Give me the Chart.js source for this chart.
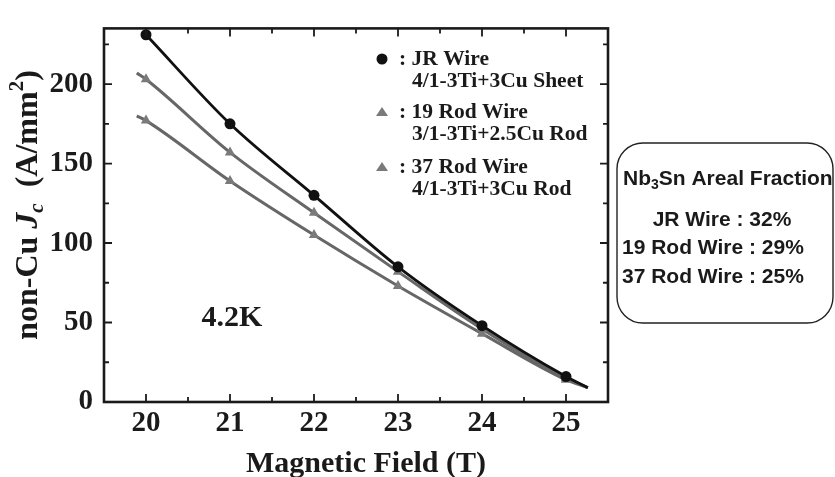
<!DOCTYPE html>
<html lang="en">
<head>
  <meta charset="UTF-8">
  <title>non-Cu Jc vs Magnetic Field</title>
  <style>
    body {
      margin: 0;
      background-color: white;
    }
    .container {
      width: 835px;
      height: 477px;
      position: relative;
    }
  </style>
  <script src="https://cdn.jsdelivr.net/npm/chart.js"></script>
</head>
<body>
  <div class="container">
    <canvas id="jcChart" width="835" height="477"></canvas>
  </div>

  <script>
    // Measured points (T, A/mm2)
    const fields = [20, 21, 22, 23, 24, 25];
    const jrWire = [231, 175, 130, 85, 48, 16];
    const rod19Wire = [203, 157, 119, 82, 46, 15];
    const rod37Wire = [177, 139, 105, 73, 43, 14];

    // Ends of the fitted curves
    const fitStartField = 19.89;
    const rod19FitStart = 207;
    const rod37FitStart = 180;
    const fitEndField = 25.26;
    const fitEndValue = 9;

    const xTicks = [20, 21, 22, 23, 24, 25];
    const yTicks = [0, 50, 100, 150, 200];

    const xTitle = 'Magnetic Field (T)';
    const legendLines = [
      [': JR Wire', '4/1-3Ti+3Cu Sheet'],
      [': 19 Rod Wire', '3/1-3Ti+2.5Cu Rod'],
      [': 37 Rod Wire', '4/1-3Ti+3Cu Rod']
    ];
    const fractionTitle = ['Nb', '3', 'Sn Areal Fraction'];
    const fractionLines = ['JR Wire : 32%', '19 Rod Wire : 29%', '37 Rod Wire : 25%'];

    const SERIF = '"Liberation Serif", "Times New Roman", serif';
    const SANS = '"Liberation Sans", Arial, sans-serif';

    const toPoints = (xs, ys) => xs.map((x, i) => ({ x: x, y: ys[i] }));

    const jrData = toPoints(fields, jrWire).concat([{ x: fitEndField, y: fitEndValue }]);
    const rod19Data = [{ x: fitStartField, y: rod19FitStart }]
      .concat(toPoints(fields, rod19Wire), [{ x: fitEndField, y: fitEndValue }]);
    const rod37Data = [{ x: fitStartField, y: rod37FitStart }]
      .concat(toPoints(fields, rod37Wire), [{ x: fitEndField, y: fitEndValue }]);

    // radius 0 on the fit-only ends
    const radii = (data, r) => data.map(p => (fields.includes(p.x) ? r : 0));

    // inward ticks, frame, titles, legend, notes
    const decorations = {
      id: 'decorations',
      afterDatasetsDraw(chart) {
        const ctx = chart.ctx;
        const a = chart.chartArea;
        const xs = chart.scales.x;
        const ys = chart.scales.y;
        ctx.save();
        ctx.strokeStyle = '#1a1a1a';
        ctx.lineWidth = 1.8;
        ctx.beginPath();
        for (let v = 19.5; v <= 25.5001; v += 0.5) {
          const px = xs.getPixelForValue(v);
          const len = Number.isInteger(v) ? 8 : 5;
          ctx.moveTo(px, a.bottom); ctx.lineTo(px, a.bottom - len);
          ctx.moveTo(px, a.top); ctx.lineTo(px, a.top + len);
        }
        for (let v = 0; v <= 235; v += 25) {
          const py = ys.getPixelForValue(v);
          const len = v % 50 === 0 ? 8 : 5;
          ctx.moveTo(a.left, py); ctx.lineTo(a.left + len, py);
          ctx.moveTo(a.right, py); ctx.lineTo(a.right - len, py);
        }
        ctx.stroke();

        ctx.lineWidth = 2.6;
        ctx.strokeRect(a.left, a.top, a.right - a.left, a.bottom - a.top);

        // x axis title
        ctx.fillStyle = '#1a1a1a';
        ctx.font = 'bold 30px ' + SERIF;
        ctx.textAlign = 'center';
        ctx.textBaseline = 'alphabetic';
        ctx.fillText(xTitle, 366, 472);

        // y axis title, rotated
        ctx.textAlign = 'left';
        ctx.translate(26, 205);
        ctx.rotate(-Math.PI / 2);
        const parts = [
          { t: 'non-Cu ', f: 'bold 32px ' + SERIF, dy: 0 },
          { t: 'J', f: 'italic bold 32px ' + SERIF, dy: 0 },
          { t: 'c', f: 'italic bold 21px ' + SERIF, dy: 6 },
          { t: '  (A/mm', f: 'bold 32px ' + SERIF, dy: 0 },
          { t: '2', f: 'bold 21px ' + SERIF, dy: -14 },
          { t: ')', f: 'bold 32px ' + SERIF, dy: 0 }
        ];
        let total = 0;
        parts.forEach(p => { ctx.font = p.f; total += ctx.measureText(p.t).width; });
        let cx = -total / 2;
        parts.forEach(p => {
          ctx.font = p.f;
          ctx.fillText(p.t, cx, 11 + p.dy);
          cx += ctx.measureText(p.t).width;
        });
        ctx.setTransform(1, 0, 0, 1, 0, 0);

        // legend
        const rows = [59, 112, 167];
        rows.forEach((y, i) => {
          if (i === 0) {
            ctx.fillStyle = '#111';
            ctx.beginPath();
            ctx.arc(382, y, 5.5, 0, Math.PI * 2);
            ctx.fill();
          } else {
            ctx.fillStyle = '#7a7a7a';
            ctx.beginPath();
            ctx.moveTo(382, y - 5);
            ctx.lineTo(388, y + 4);
            ctx.lineTo(376, y + 4);
            ctx.closePath();
            ctx.fill();
          }
          ctx.fillStyle = '#1a1a1a';
          ctx.font = 'bold 21.5px ' + SERIF;
          ctx.textBaseline = 'middle';
          ctx.textAlign = 'left';
          ctx.fillText(legendLines[i][0], 399, y);
          ctx.fillText(legendLines[i][1], 412, y + 22);
        });

        // temperature label
        ctx.font = 'bold 30px ' + SERIF;
        ctx.textAlign = 'center';
        ctx.fillText('4.2K', 232, 318);

        // areal fraction box
        ctx.lineWidth = 1.4;
        ctx.strokeStyle = '#222';
        ctx.beginPath();
        ctx.roundRect(617, 143, 216, 180, 26);
        ctx.stroke();
        ctx.textAlign = 'left';
        ctx.font = 'bold 21px ' + SANS;
        let tx = 623;
        ctx.fillText(fractionTitle[0], tx, 179);
        tx += ctx.measureText(fractionTitle[0]).width;
        ctx.font = 'bold 14px ' + SANS;
        ctx.fillText(fractionTitle[1], tx, 185);
        tx += ctx.measureText(fractionTitle[1]).width;
        ctx.font = 'bold 21px ' + SANS;
        ctx.fillText(fractionTitle[2], tx, 179);
        ctx.textAlign = 'center';
        ctx.fillText(fractionLines[0], 722, 220);
        ctx.textAlign = 'left';
        ctx.fillText(fractionLines[1], 622, 248);
        ctx.fillText(fractionLines[2], 622, 277);
        ctx.restore();
      }
    };

    const ctx = document.getElementById('jcChart').getContext('2d');
    const jcChart = new Chart(ctx, {
      type: 'scatter',
      data: {
        datasets: [
          {
            label: 'JR Wire',
            data: jrData,
            showLine: true,
            borderColor: '#111',
            backgroundColor: '#111',
            borderWidth: 2.8,
            pointStyle: 'circle',
            pointRadius: radii(jrData, 5.5),
            pointBorderWidth: 0,
            cubicInterpolationMode: 'monotone'
          },
          {
            label: '19 Rod Wire',
            data: rod19Data,
            showLine: true,
            borderColor: '#676767',
            backgroundColor: '#7a7a7a',
            borderWidth: 3,
            pointStyle: 'triangle',
            pointRadius: radii(rod19Data, 6),
            pointBorderWidth: 0,
            cubicInterpolationMode: 'monotone'
          },
          {
            label: '37 Rod Wire',
            data: rod37Data,
            showLine: true,
            borderColor: '#676767',
            backgroundColor: '#7a7a7a',
            borderWidth: 3,
            pointStyle: 'triangle',
            pointRadius: radii(rod37Data, 6),
            pointBorderWidth: 0,
            cubicInterpolationMode: 'monotone'
          }
        ]
      },
      options: {
        responsive: false,
        animation: false,
        layout: {
          padding: { left: 0, right: 227, top: 13, bottom: 0 }
        },
        scales: {
          x: {
            type: 'linear',
            min: 19.5,
            max: 25.5,
            afterBuildTicks: (scale) => { scale.ticks = xTicks.map(v => ({ value: v })); },
            afterFit: (scale) => { scale.height = 75; },
            grid: { display: false, drawTicks: false },
            border: { display: false },
            ticks: {
              color: '#1a1a1a',
              padding: 4,
              font: { family: SERIF, size: 29, weight: 'bold' }
            }
          },
          y: {
            min: 0,
            max: 235,
            afterBuildTicks: (scale) => { scale.ticks = yTicks.map(v => ({ value: v })); },
            afterFit: (scale) => { scale.width = 104; },
            grid: { display: false, drawTicks: false },
            border: { display: false },
            ticks: {
              color: '#1a1a1a',
              padding: 11,
              font: { family: SERIF, size: 29, weight: 'bold' }
            }
          }
        },
        plugins: {
          legend: { display: false },
          tooltip: { enabled: false }
        }
      },
      plugins: [decorations]
    });
  </script>
</body>
</html>
